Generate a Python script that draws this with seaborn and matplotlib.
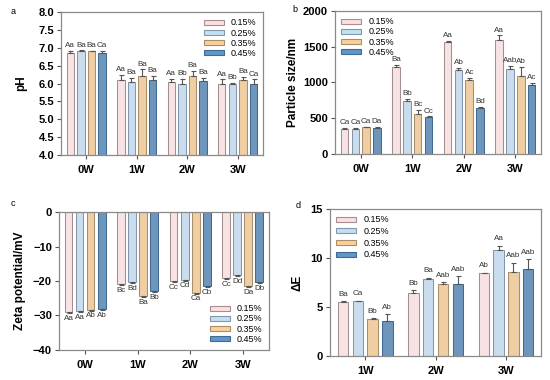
import numpy as np
import pandas as pd
import matplotlib
matplotlib.use("Agg")
import matplotlib.pyplot as plt
import seaborn as sns
from matplotlib.patches import Patch

# --- data ---
conc = ['0.15%', '0.25%', '0.35%', '0.45%']
weeks4 = ['0W', '1W', '2W', '3W']
weeks3 = ['1W', '2W', '3W']

# rows = weeks, cols = concentration
ph_mean = [[6.85, 6.92, 6.90, 6.85], [6.10, 6.05, 6.22, 6.10],
           [6.05, 6.00, 6.20, 6.08], [6.00, 6.00, 6.10, 6.00]]
ph_err = [[0.07, 0.01, 0.02, 0.07], [0.15, 0.10, 0.18, 0.12],
          [0.08, 0.14, 0.15, 0.08], [0.12, 0.02, 0.08, 0.12]]
ph_lab = [['Aa', 'Ba', 'Ba', 'Ca'], ['Aa', 'Ba', 'Ba', 'Ba'],
          ['Aa', 'Bb', 'Ba', 'Ba'], ['Aa', 'Bb', 'Ba', 'Ca']]

ps_mean = [[355, 355, 370, 365], [1220, 740, 565, 515],
           [1560, 1175, 1030, 645], [1590, 1190, 1090, 965]]
ps_err = [[8, 8, 8, 8], [25, 25, 55, 10],
          [25, 30, 35, 10], [70, 40, 130, 30]]
ps_lab = [['Ca', 'Ca', 'Ca', 'Da'], ['Ba', 'Bb', 'Bc', 'Cc'],
          ['Aa', 'Ab', 'Ac', 'Bd'], ['Aa', 'Aab', 'Ab', 'Ac']]

zp_mean = [[-29.0, -28.8, -28.3, -28.2], [-21.0, -20.4, -24.3, -22.8],
           [-20.1, -19.6, -23.4, -21.5], [-19.2, -18.3, -21.5, -20.4]]
zp_err = [[0.3, 0.3, 0.3, 0.3], [0.3, 0.3, 0.4, 0.4],
          [0.3, 0.3, 0.3, 0.3], [0.3, 0.3, 0.3, 0.3]]
zp_lab = [['Aa', 'Aa', 'Ab', 'Ab'], ['Bc', 'Bd', 'Ba', 'Bb'],
          ['Cc', 'Cd', 'Ca', 'Cb'], ['Cc', 'Dd', 'Da', 'Db']]

de_mean = [[5.5, 5.6, 3.8, 3.55], [6.4, 7.9, 7.3, 7.3], [8.45, 10.85, 8.6, 8.85]]
de_err = [[0.1, 0.05, 0.08, 0.7], [0.3, 0.1, 0.25, 0.85], [0.05, 0.4, 0.9, 1.0]]
de_lab = [['Ba', 'Ca', 'Bb', 'Ab'], ['Bb', 'Ba', 'Aab', 'Aab'], ['Ab', 'Aa', 'Aab', 'Aab']]

fills = ['#FCDFE1', '#C4DEF4', '#FBCF98', '#6196C9']
edges = ['#A58E90', '#8497AA', '#A88E6A', '#3F6A94']

plt.rcParams['font.family'] = ['Liberation Sans', 'DejaVu Sans']


def to_df(weeks, means, errs, labs):
    rows = []
    for i, w in enumerate(weeks):
        for j, c in enumerate(conc):
            rows.append(dict(week=w, conc=c, val=means[i][j], err=errs[i][j], lab=labs[i][j]))
    return pd.DataFrame(rows)


def panel(ax, df, weeks, ylim, yticks, ylabel, legend_loc, pad, ytickfmt, lpad, lspace=0.12):
    sns.barplot(data=df, x='week', y='val', hue='conc', order=weeks, hue_order=conc,
                palette=fills, errorbar=None, width=0.84, gap=0.3, ax=ax,
                linewidth=0.75, legend=False)
    # edge colours + error bars + letters
    for j, c in enumerate(conc):
        cont = ax.containers[j]
        sub = df[df.conc == c].set_index('week').loc[weeks]
        for bar, (_, r) in zip(cont, sub.iterrows()):
            bar.set_edgecolor(edges[j])
            x = bar.get_x() + bar.get_width() / 2
            sign = 1 if r.val >= 0 else -1
            ax.errorbar(x, r.val, yerr=[[0], [r.err]] if sign > 0 else [[r.err], [0]],
                        fmt='none', ecolor='#555555', elinewidth=0.8, capsize=1.8, capthick=0.8)
            end = r.val + sign * r.err
            ax.text(x, end + sign * pad, r.lab, ha='center',
                    va='bottom' if sign > 0 else 'top', fontsize=5.8, color='#333333')
    ax.set_ylim(*ylim)
    ax.set_yticks(yticks)
    ax.set_yticklabels([ytickfmt(t) for t in yticks])
    ax.set_xlim(-0.5, len(weeks) - 0.5)
    ax.set_xlabel('')
    ax.set_ylabel(ylabel, fontsize=8.5, fontweight='bold', labelpad=lpad)
    for s in ax.spines.values():
        s.set_color('#8a8a8a')
        s.set_linewidth(0.9)
    ax.tick_params(axis='both', length=3, width=0.8, color='#555555', pad=2)
    ax.tick_params(axis='y', labelsize=8)
    ax.tick_params(axis='x', labelsize=8, pad=4)
    for t in ax.get_xticklabels() + ax.get_yticklabels():
        t.set_fontweight('bold')
    handles = [Patch(facecolor=fills[j], edgecolor=edges[j], linewidth=0.8, label=c)
               for j, c in enumerate(conc)]
    ax.legend(handles=handles, loc=legend_loc, frameon=False, fontsize=6.5,
              handlelength=2.2, handleheight=0.5, labelspacing=lspace,
              handletextpad=0.8, borderaxespad=0.3)


fig = plt.figure(figsize=(5.5, 3.8), dpi=100)
ax_a = fig.add_axes([0.111, 0.592, 0.367, 0.376])
ax_b = fig.add_axes([0.609, 0.595, 0.375, 0.376])
ax_c = fig.add_axes([0.107, 0.079, 0.382, 0.363])
ax_d = fig.add_axes([0.600, 0.063, 0.384, 0.387])

fmt1 = lambda t: f'{t:.1f}'
fmt0 = lambda t: f'{t:.0f}'.replace('-', '\u2212')

panel(ax_a, to_df(weeks4, ph_mean, ph_err, ph_lab), weeks4, (4, 8),
      np.arange(4, 8.01, 0.5), 'pH', 'upper right', 0.05, fmt1, 8)
panel(ax_b, to_df(weeks4, ps_mean, ps_err, ps_lab), weeks4, (0, 2000),
      [0, 500, 1000, 1500, 2000], 'Particle size/nm', 'upper left', 25, fmt0, 3)
panel(ax_c, to_df(weeks4, zp_mean, zp_err, zp_lab), weeks4, (-40, 0),
      [-40, -30, -20, -10, 0], 'Zeta potential/mV', 'lower right', 0.5, fmt0, 5)
panel(ax_d, to_df(weeks3, de_mean, de_err, de_lab), weeks3, (0, 15),
      [0, 5, 10, 15], '\u0394E', 'upper left', 0.35, fmt0, 5, lspace=0.3)

# panel letters
for lab, xp, yp in [('a', 13, 11), ('b', 295, 10), ('c', 13, 203), ('d', 298, 205)]:
    fig.text(xp / 550, 1 - yp / 380, lab, fontsize=6.5, va='center', ha='center')

fig.savefig('out.png', dpi=100)
